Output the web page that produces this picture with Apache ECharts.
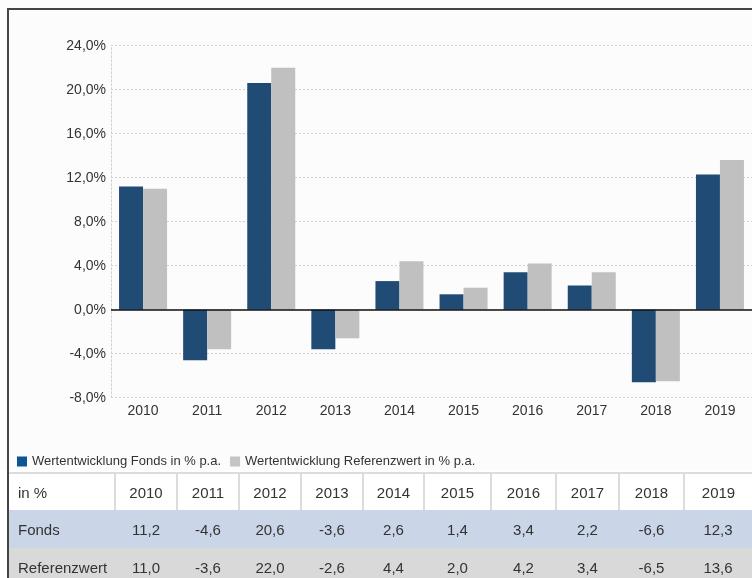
<!DOCTYPE html>
<html><head><meta charset="utf-8">
<script src="https://cdn.jsdelivr.net/npm/echarts@6/dist/echarts.min.js"></script>
<style>
html,body{margin:0;padding:0;background:#fff;width:752px;height:578px;overflow:hidden;font-family:"Liberation Sans",Arial,sans-serif;}
#frame{position:absolute;left:7px;top:8px;width:745px;height:570px;border-top:2px solid #444;border-left:2px solid #444;box-sizing:border-box;}
#chart{position:absolute;left:0;top:0;width:752px;height:470px;}
#tbl{position:absolute;left:9px;top:472px;border-collapse:collapse;table-layout:fixed;font-size:15px;color:#333;}
#tbl td{padding:0;text-align:center;height:38px;}
#tbl tr.h td{border-top:2px solid #dcdcdc;border-left:2px solid #dcdcdc;background:#fff;height:36px;}
#tbl tr.h td:first-child{border-left:none;}
#tbl td:first-child{text-align:left;padding-left:9px;}
#tbl tr.f td{background:#cbd5e8;}
#tbl tr.r td{background:#d9d9d9;}
</style></head>
<body>
<div id="chart"></div>
<div id="frame"></div>
<table id="tbl"></table>
<script>
const years = ['2010','2011','2012','2013','2014','2015','2016','2017','2018','2019'];
const fonds = [11.2,-4.6,20.6,-3.6,2.6,1.4,3.4,2.2,-6.6,12.3];
const referenz = [11.0,-3.6,22.0,-2.6,4.4,2.0,4.2,3.4,-6.5,13.6];
const seriesNames = ['Wertentwicklung Fonds in % p.a.','Wertentwicklung Referenzwert in % p.a.'];
const rowLabels = ['in %','Fonds','Referenzwert'];
const colWidths = [106,62,62,62,62,61,67,65,63,65,68];

const fmt = v => v.toFixed(1).replace('.',',');

const chart = echarts.init(document.getElementById('chart'));
chart.setOption({
  backgroundColor:'#fcfcfc',
  animation:false,
  textStyle:{fontFamily:'"Liberation Sans", Arial, sans-serif'},
  grid:{left:111,right:0,top:45.7,bottom:72.3},
  legend:{
    left:17, top:455, padding:0, itemWidth:10, itemHeight:10, itemGap:9, icon:'rect',
    textStyle:{fontSize:13,color:'#333'},
    data:[{name:seriesNames[0],itemStyle:{color:'#0e5597'}},{name:seriesNames[1],itemStyle:{color:'#c4c4c4'}}]
  },
  xAxis:{type:'category',data:years,
    axisLine:{show:false},axisTick:{show:false},
    axisLabel:{fontSize:14,color:'#333',margin:6}},
  yAxis:{type:'value',min:-8,max:24,interval:4,
    axisLine:{show:true,lineStyle:{color:'#d0d0d0',type:[2,2]}},
    axisTick:{show:false},
    splitLine:{lineStyle:{color:'#d0d0d0',type:[2,2]}},
    axisLabel:{fontSize:14,color:'#333',margin:5,formatter:v=>fmt(v)+'%'}},
  series:[
    {name:seriesNames[0],type:'bar',data:fonds,barWidth:24,barGap:'0%',
      itemStyle:{color:'#1f4b75'},
      markLine:{silent:true,symbol:'none',label:{show:false},
        lineStyle:{color:'#111',type:'solid',width:1.5},data:[{yAxis:0}]}},
    {name:seriesNames[1],type:'bar',data:referenz,barWidth:24,
      itemStyle:{color:'#c0c0c0'}}
  ]
});

const tbl = document.getElementById('tbl');
let html = '<colgroup>'+colWidths.map(w=>'<col style="width:'+w+'px">').join('')+'</colgroup>';
html += '<tr class="h"><td>'+rowLabels[0]+'</td>'+years.map(y=>'<td>'+y+'</td>').join('')+'</tr>';
html += '<tr class="f"><td>'+rowLabels[1]+'</td>'+fonds.map(v=>'<td>'+fmt(v)+'</td>').join('')+'</tr>';
html += '<tr class="r"><td>'+rowLabels[2]+'</td>'+referenz.map(v=>'<td>'+fmt(v)+'</td>').join('')+'</tr>';
tbl.innerHTML = html;
</script>
</body></html>
